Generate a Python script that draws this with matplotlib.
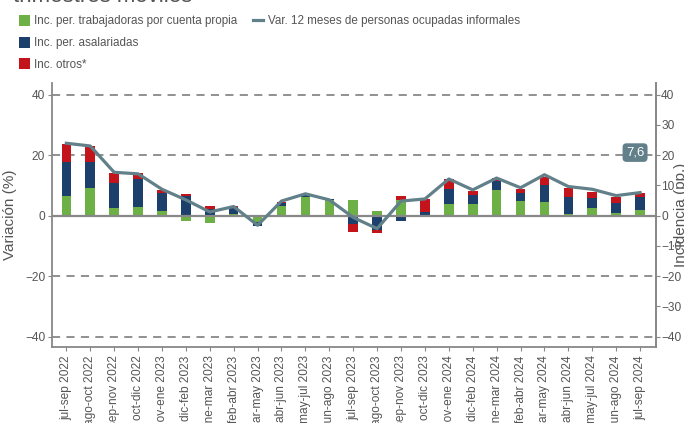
import numpy as np
import matplotlib.pyplot as plt
from matplotlib.patches import Patch
from matplotlib.lines import Line2D

plt.rcParams['font.family'] = ['Liberation Sans', 'DejaVu Sans']

periods = ["jul-sep 2022", "ago-oct 2022", "sep-nov 2022", "oct-dic 2022", "nov-ene 2023",
           "dic-feb 2023", "ene-mar 2023", "feb-abr 2023", "mar-may 2023", "abr-jun 2023",
           "may-jul 2023", "jun-ago 2023", "jul-sep 2023", "ago-oct 2023", "sep-nov 2023",
           "oct-dic 2023", "nov-ene 2024", "dic-feb 2024", "ene-mar 2024", "feb-abr 2024",
           "mar-may 2024", "abr-jun 2024", "may-jul 2024", "jun-ago 2024", "jul-sep 2024"]

cuenta_propia = [6.6, 9.0, 2.6, 3.0, 1.4, -1.7, -2.4, 0.4, -2.0, 3.2, 6.1, 5.0, 5.0, 1.4, 5.2,
                 0.3, 3.8, 3.8, 8.3, 4.8, 4.6, 0.5, 2.4, 0.8, 1.9]
asalariadas = [11.0, 8.8, 8.1, 9.0, 6.2, 6.6, 2.1, 2.6, -1.3, 1.1, 1.0, 0.5, -2.8, -4.7, -1.7,
               1.0, 5.0, 3.0, 3.2, 2.6, 5.4, 5.6, 3.3, 3.3, 4.2]
otros = [6.1, 5.2, 3.5, 2.0, 0.9, 0.5, 1.2, 0.2, 0.0, 0.3, 0.0, -0.6, -2.7, -0.9, 1.3,
         4.1, 3.2, 1.3, 1.0, 1.4, 2.9, 3.1, 2.2, 2.2, 1.3]
var_informales = [23.9, 23.0, 14.3, 13.8, 8.7, 5.2, 1.2, 3.0, -3.2, 4.8, 7.2, 5.2, -0.6, -4.3,
                  4.8, 5.5, 12.1, 8.5, 12.4, 9.2, 13.5, 9.6, 8.7, 6.6, 7.6]

series = [cuenta_propia, asalariadas, otros]
names = ["Inc. per. trabajadoras por cuenta propia", "Inc. per. asalariadas", "Inc. otros*"]
colors = ["#6DB046", "#1C3F6B", "#C3141C"]
line_color = "#62808A"
gray = "#888888"
txt = "#555555"

x = np.arange(len(periods))

fig = plt.figure(figsize=(6.84, 4.23), dpi=100)
ax = fig.add_axes([52 / 684, 1 - 347 / 423, (655.6 - 52) / 684, (347 - 83) / 423])

pos_base = np.zeros(len(x))
neg_base = np.zeros(len(x))
for vals, c in zip(series, colors):
    v = np.array(vals)
    bottom = np.where(v >= 0, pos_base, neg_base)
    ax.bar(x, v, bottom=bottom, width=0.4, color=c, zorder=2)
    pos_base = pos_base + np.where(v >= 0, v, 0)
    neg_base = neg_base + np.where(v < 0, v, 0)

for yv in [-40, -20, 20, 40]:
    ax.axhline(yv, color=gray, lw=1.3, linestyle=(0, (4.5, 3.5)), zorder=1)
ax.axhline(0, color=gray, lw=1.6, zorder=2.5)

ax.plot(x, var_informales, color=line_color, lw=2.3, zorder=3)

last = f"{var_informales[-1]:.1f}".replace(".", ",")
ax.annotate(last, xy=(x[-1], var_informales[-1]), xytext=(-3.6, 28.8),
            textcoords="offset points", ha="center", va="center", color="white",
            fontsize=9.5, zorder=4,
            bbox=dict(boxstyle="round,pad=0.25,rounding_size=0.3", fc=line_color, ec="none"))

ylim = (-43.4, 43.8)
ax.set_xlim(-0.6, len(x) - 1 + 0.65)
ax.set_ylim(*ylim)
ax.set_yticks([-40, -20, 0, 20, 40])
ax.set_xticks(x)
ax.set_xticklabels(periods, rotation=90, fontsize=8.6, color=txt)
ax.tick_params(axis="x", length=3, color=gray, pad=3)
ax.tick_params(axis="y", length=3, color=gray, labelsize=8.6, labelcolor=txt, pad=2)
ax.set_ylabel("Variación (%)", fontsize=11, color=txt, labelpad=6)
ax.spines["top"].set_visible(False)
for s in ["left", "right", "bottom"]:
    ax.spines[s].set_color(gray)
    ax.spines[s].set_linewidth(1.3)

ax2 = ax.twinx()
ax2.set_ylim(*ylim)
ax2.set_yticks(np.arange(-40, 41, 10))
ax2.tick_params(axis="y", length=3, color=gray, labelsize=8.6, labelcolor=txt, pad=1)
for s in ["top", "left", "bottom"]:
    ax2.spines[s].set_visible(False)
ax2.spines["right"].set_color(gray)
ax2.spines["right"].set_linewidth(1.3)

fig.text(681 / 684, 0.5 * ((1 - 347 / 423) + (1 - 83 / 423)), "Incidencia (pp.)",
         rotation=90, ha="center", va="center", fontsize=11, color=txt)

fig.text(13 / 684, 1 - 1.5 / 423, "trimestres móviles", fontsize=16, color=txt, va="baseline")

blank = Patch(facecolor="none", edgecolor="none")
handles = [Patch(facecolor=c) for c in colors] + [Line2D([], [], color=line_color, lw=2.3), blank, blank]
labels = names + ["Var. 12 meses de personas ocupadas informales", "", ""]
fig.legend(handles, labels, ncol=2, loc="upper left", bbox_to_anchor=(19 / 684, 1 - 15 / 423),
           frameon=False, fontsize=8.4, borderpad=0, borderaxespad=0, handlelength=0.9,
           handleheight=1.05, handletextpad=0.4, columnspacing=1.3, labelspacing=0.8,
           labelcolor=txt)

fig.savefig("out.png", dpi=100)
